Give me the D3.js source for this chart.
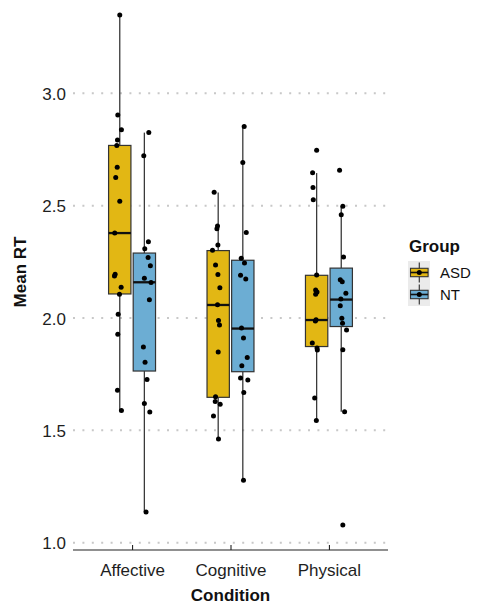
<!DOCTYPE html>
<html>
<head>
<meta charset="utf-8">
<script src="https://cdn.jsdelivr.net/npm/d3@7"></script>
<style>
  html, body { margin: 0; padding: 0; background: #fff; }
  svg { display: block; font-family: "Liberation Sans", Arial, Helvetica, sans-serif; }
</style>
</head>
<body>
<svg id="chart" width="477" height="605"></svg>
<script>
// ---------------- DATA ----------------
const categories = ["Affective", "Cognitive", "Physical"];
const groups = ["ASD", "NT"];
const groupColors = ["#E2B714", "#6CADD3"];
const yTicks = [1.0, 1.5, 2.0, 2.5, 3.0];
const yTickLabels = ["1.0", "1.5", "2.0", "2.5", "3.0"];

// box stats per category: [lower whisker, Q1, median, Q3, upper whisker]
const asdStats = [
  [1.588, 2.107, 2.378, 2.768, 3.348],
  [1.462, 1.647, 2.058, 2.300, 2.558],
  [1.546, 1.873, 1.991, 2.190, 2.645]
];
const ntStats = [
  [1.137, 1.764, 2.159, 2.289, 2.825],
  [1.279, 1.761, 1.953, 2.257, 2.852],
  [1.583, 1.962, 2.082, 2.222, 2.496]
];

// individual participant values (Mean RT)
const affectiveASD = [3.348, 2.903, 2.838, 2.792, 2.768, 2.671, 2.625, 2.520, 2.378, 2.195, 2.187, 2.137, 2.106, 2.017, 1.928, 1.679, 1.588];
const affectiveNT  = [2.825, 2.722, 2.339, 2.308, 2.269, 2.233, 2.177, 2.158, 2.081, 1.871, 1.803, 1.726, 1.619, 1.582, 1.137];
const cognitiveASD = [2.560, 2.409, 2.397, 2.325, 2.301, 2.236, 2.194, 2.135, 2.059, 1.989, 1.969, 1.849, 1.649, 1.628, 1.616, 1.564, 1.462];
const cognitiveNT  = [2.852, 2.692, 2.380, 2.266, 2.245, 2.190, 2.174, 1.955, 1.911, 1.824, 1.787, 1.733, 1.724, 1.669, 1.278];
const physicalASD  = [2.746, 2.646, 2.581, 2.526, 2.191, 2.125, 2.116, 2.106, 1.992, 1.987, 1.889, 1.867, 1.858, 1.644, 1.544];
const physicalNT   = [2.658, 2.497, 2.460, 2.272, 2.170, 2.161, 2.110, 2.085, 2.055, 1.999, 1.977, 1.947, 1.859, 1.583, 1.079];

// horizontal jitter (in category units)
const affectiveASDJitter = [0, -0.020, 0.017, -0.023, -0.030, -0.026, -0.041, 0, -0.051, -0.047, -0.054, 0.014, -0.003, -0.016, -0.020, -0.023, 0.017];
const affectiveNTJitter  = [0.045, -0.006, 0.041, 0.004, 0.038, 0.061, 0, 0.068, 0.051, -0.010, 0.007, 0.027, 0, 0.055, 0.017];
const cognitiveASDJitter = [-0.041, -0.007, -0.013, -0.003, -0.058, -0.027, -0.003, 0.017, -0.007, 0.003, 0.013, 0, -0.027, -0.030, 0.020, -0.048, 0.003];
const cognitiveNTJitter  = [0.014, 0, 0.035, -0.016, 0.017, -0.023, 0.030, -0.013, 0.007, 0.045, -0.010, -0.023, 0.051, 0.010, 0.007];
const physicalASDJitter  = [0, -0.041, -0.037, -0.034, 0, -0.010, 0.004, -0.010, -0.006, -0.013, -0.044, 0.004, 0.007, -0.020, -0.003];
const physicalNTJitter   = [-0.017, 0.016, 0, 0.023, -0.010, 0.010, 0.047, -0.004, -0.010, 0.006, 0.013, 0.054, 0.016, 0.034, 0.016];

// ---------------- BUILD ----------------
const stats = [asdStats, ntStats];
const pointSets = [
  [affectiveASD, affectiveNT],
  [cognitiveASD, cognitiveNT],
  [physicalASD, physicalNT]
];
const jitterSets = [
  [affectiveASDJitter, affectiveNTJitter],
  [cognitiveASDJitter, cognitiveNTJitter],
  [physicalASDJitter, physicalNTJitter]
];

const svg = d3.select("#chart");
const panelLeft = 73, panelRight = 388, axisY = 550;

const x = d3.scalePoint().domain(categories).range([panelLeft, panelRight]).padding(0.6);
const step = x.step();
const y = d3.scaleLinear().domain([1, 3]).range([542.7, 93.3]);

const dodge = 0.125;       // group center offset (category units)
const boxW = 0.227 * step; // box width

// gridlines
svg.append("g").selectAll("line").data(yTicks).join("line")
  .attr("x1", panelLeft).attr("x2", panelRight)
  .attr("y1", d => y(d)).attr("y2", d => y(d))
  .attr("stroke", "#c8c8c8").attr("stroke-width", 2)
  .attr("stroke-dasharray", "2 7.4").attr("stroke-linecap", "butt");

// y axis labels
const yAxis = d3.axisLeft(y).tickValues(yTicks).tickFormat((d, i) => yTickLabels[i]).tickSize(0).tickPadding(7);
const gy = svg.append("g").attr("transform", `translate(${panelLeft},0)`).call(yAxis);
gy.select(".domain").remove();
gy.selectAll("text").attr("font-size", 17).attr("fill", "#1e1e1e")
  .attr("font-family", "Liberation Sans, Arial, sans-serif").attr("dy", "0.36em");

// x axis
const xAxis = d3.axisBottom(x).tickSize(-5).tickPadding(14);
const gx = svg.append("g").attr("transform", `translate(0,${axisY})`).call(xAxis);
gx.select(".domain").attr("d", `M${panelLeft},0H${panelRight}`).attr("stroke", "#222").attr("stroke-width", 1.1);
gx.selectAll(".tick line").attr("stroke", "#222").attr("stroke-width", 1.1);
gx.selectAll("text").attr("font-size", 17).attr("fill", "#1e1e1e")
  .attr("font-family", "Liberation Sans, Arial, sans-serif");

// boxplots
const boxData = [];
categories.forEach((c, ci) => {
  groups.forEach((g, gi) => {
    const s = stats[gi][ci];
    boxData.push({ c, gi, cx: x(c) + (gi === 0 ? -dodge : dodge) * step, lo: s[0], q1: s[1], med: s[2], q3: s[3], hi: s[4] });
  });
});

const bx = svg.append("g");
bx.selectAll("line.wu").data(boxData).join("line").attr("class", "wu")
  .attr("x1", d => d.cx).attr("x2", d => d.cx)
  .attr("y1", d => y(d.q3)).attr("y2", d => y(d.hi))
  .attr("stroke", "#3a3a3a").attr("stroke-width", 1.3);
bx.selectAll("line.wl").data(boxData).join("line").attr("class", "wl")
  .attr("x1", d => d.cx).attr("x2", d => d.cx)
  .attr("y1", d => y(d.q1)).attr("y2", d => y(d.lo))
  .attr("stroke", "#3a3a3a").attr("stroke-width", 1.3);
bx.selectAll("rect").data(boxData).join("rect")
  .attr("x", d => d.cx - boxW / 2).attr("width", boxW)
  .attr("y", d => y(d.q3)).attr("height", d => y(d.q1) - y(d.q3))
  .attr("fill", d => groupColors[d.gi]).attr("stroke", "#333").attr("stroke-width", 1.2);
bx.selectAll("line.med").data(boxData).join("line").attr("class", "med")
  .attr("x1", d => d.cx - boxW / 2).attr("x2", d => d.cx + boxW / 2)
  .attr("y1", d => y(d.med)).attr("y2", d => y(d.med))
  .attr("stroke", "#111").attr("stroke-width", 2.3);

// points
const pts = [];
categories.forEach((c, ci) => {
  groups.forEach((g, gi) => {
    const vals = pointSets[ci][gi], jit = jitterSets[ci][gi];
    vals.forEach((v, i) => pts.push({ v, px: x(c) + ((gi === 0 ? -dodge : dodge) + jit[i]) * step }));
  });
});
svg.append("g").selectAll("circle").data(pts).join("circle")
  .attr("cx", d => d.px).attr("cy", d => y(d.v)).attr("r", 2.5).attr("fill", "#000");

// axis titles
svg.append("text").attr("x", (panelLeft + panelRight) / 2).attr("y", 601)
  .attr("text-anchor", "middle").attr("font-size", 17).attr("font-weight", "bold").attr("fill", "#111")
  .text("Condition");
svg.append("text").attr("transform", "translate(26,272) rotate(-90)")
  .attr("text-anchor", "middle").attr("font-size", 17).attr("font-weight", "bold").attr("fill", "#111")
  .text("Mean RT");

// legend
const lg = svg.append("g");
lg.append("text").attr("x", 409).attr("y", 252).attr("font-size", 17).attr("font-weight", "bold").attr("fill", "#111").text("Group");
lg.append("rect").attr("x", 408).attr("y", 261).attr("width", 22).attr("height", 45).attr("fill", "#ebebeb");
groups.forEach((g, gi) => {
  const cy = 272.5 + gi * 22;
  const cx = 419.3;
  lg.append("line").attr("x1", cx).attr("x2", cx).attr("y1", cy - 10).attr("y2", cy + 10)
    .attr("stroke", "#3a3a3a").attr("stroke-width", 1.2);
  lg.append("rect").attr("x", 410.5).attr("y", cy - 4.2).attr("width", 17.6).attr("height", 8.4)
    .attr("fill", groupColors[gi]).attr("stroke", "#333").attr("stroke-width", 1.1);
  lg.append("line").attr("x1", 410.5).attr("x2", 428.1).attr("y1", cy).attr("y2", cy)
    .attr("stroke", "#111").attr("stroke-width", 1.6);
  lg.append("circle").attr("cx", cx).attr("cy", cy).attr("r", 2.5).attr("fill", "#000");
  lg.append("text").attr("x", 440).attr("y", cy + 5.5).attr("font-size", 15).attr("fill", "#111").text(g);
});
</script>
</body>
</html>
